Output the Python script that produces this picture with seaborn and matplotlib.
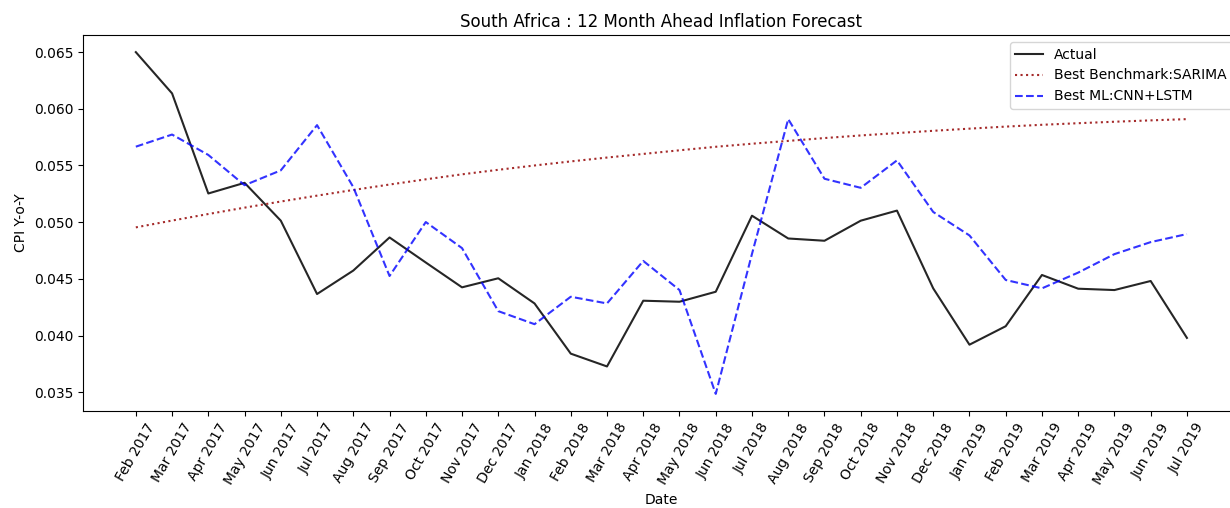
import matplotlib
matplotlib.use("Agg")
import matplotlib.pyplot as plt
import seaborn as sns
import pandas as pd

months = ["Feb 2017", "Mar 2017", "Apr 2017", "May 2017", "Jun 2017", "Jul 2017",
          "Aug 2017", "Sep 2017", "Oct 2017", "Nov 2017", "Dec 2017", "Jan 2018",
          "Feb 2018", "Mar 2018", "Apr 2018", "May 2018", "Jun 2018", "Jul 2018",
          "Aug 2018", "Sep 2018", "Oct 2018", "Nov 2018", "Dec 2018", "Jan 2019",
          "Feb 2019", "Mar 2019", "Apr 2019", "May 2019", "Jun 2019", "Jul 2019"]

actual = [0.0650, 0.06136, 0.05253, 0.05347, 0.05013, 0.04366, 0.04573, 0.04865,
          0.04644, 0.04425, 0.04505, 0.04283, 0.03840, 0.03727, 0.04307, 0.04298,
          0.04386, 0.05057, 0.04856, 0.04836, 0.05013, 0.05102, 0.04416, 0.03919,
          0.04082, 0.04534, 0.04413, 0.04401, 0.04481, 0.03979]

sarima = [0.04954, 0.05014, 0.05072, 0.05128, 0.05182, 0.05234, 0.05284, 0.05332,
          0.05378, 0.05422, 0.05462, 0.05500, 0.05536, 0.05570, 0.05602, 0.05634,
          0.05665, 0.05692, 0.05717, 0.05742, 0.05765, 0.05786, 0.05806, 0.05825,
          0.05843, 0.05859, 0.05873, 0.05886, 0.05898, 0.05909]

cnn_lstm = [0.05666, 0.05773, 0.05593, 0.05326, 0.05457, 0.05856, 0.05309, 0.04525,
            0.05001, 0.04771, 0.04215, 0.04100, 0.04342, 0.04283, 0.04658, 0.04401,
            0.03485, 0.04720, 0.05909, 0.05383, 0.05303, 0.05545, 0.05090, 0.04883,
            0.04490, 0.04416, 0.04555, 0.04718, 0.04824, 0.04895]

df = pd.DataFrame({"Date": months, "Actual": actual,
                   "Best Benchmark:SARIMA": sarima,
                   "Best ML:CNN+LSTM": cnn_lstm})

plt.rcParams["font.family"] = ["DejaVu Sans"]
fig = plt.figure(figsize=(12.3, 5.08), dpi=100)
ax = fig.add_axes([0.0677, 0.191, 0.940, 0.740])

x = list(range(len(months)))
sns.lineplot(x=x, y=df["Actual"], ax=ax, color="black", alpha=0.85,
             linewidth=1.5, label="Actual")
sns.lineplot(x=x, y=df["Best Benchmark:SARIMA"], ax=ax, color="brown",
             linewidth=1.5, linestyle=":", label="Best Benchmark:SARIMA")
sns.lineplot(x=x, y=df["Best ML:CNN+LSTM"], ax=ax, color="blue", alpha=0.8,
             linewidth=1.5, linestyle="--", label="Best ML:CNN+LSTM")

ax.set_xticks(x)
ax.set_xticklabels(months, rotation=60, ha="center", fontsize=10)
ax.set_yticks([0.035, 0.040, 0.045, 0.050, 0.055, 0.060, 0.065])
ax.set_yticklabels(["0.035", "0.040", "0.045", "0.050", "0.055", "0.060", "0.065"],
                   fontsize=10)
ax.set_xlabel("Date", fontsize=10)
ax.set_ylabel("CPI Y-o-Y", fontsize=10)
ax.set_title("South Africa : 12 Month Ahead Inflation Forecast", fontsize=12)
ax.legend(loc="upper right", fontsize=10)

fig.savefig("out.png", dpi=100)
